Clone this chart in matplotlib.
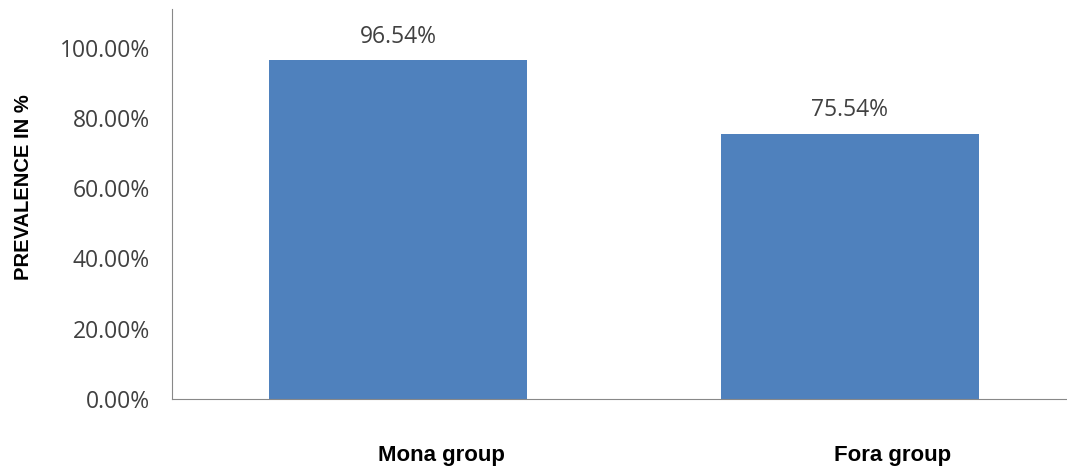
import matplotlib.pyplot as plt
import matplotlib.transforms as mtransforms
from matplotlib.ticker import FuncFormatter

# данные
groups = ["Mona group", "Fora group"]
prevalence = [96.54, 75.54]
y_ticks = [0, 20, 40, 60, 80, 100]

bar_color = "#4F81BD"
text_color = "#404040"

fig = plt.figure(figsize=(10.67, 4.69), dpi=100)
ax = fig.add_axes([172 / 1067, 1 - 399 / 469, (1076 - 172) / 1067, (399 - 9) / 469])

x = list(range(len(groups)))
ax.bar(x, prevalence, width=0.571, color=bar_color)
ax.set_xlim(-0.5, len(groups) - 0.5)
ax.set_ylim(0, 111)

for xi, v in zip(x, prevalence):
    ax.annotate(f"{v:.2f}%", (xi, v), xytext=(0, 8), textcoords="offset points",
                ha="center", va="bottom", fontsize=16.5, family="Open Sans", color=text_color)

ax.set_yticks(y_ticks)
ax.yaxis.set_major_formatter(FuncFormatter(lambda v, p: f"{v:.2f}%"))
for lbl in ax.get_yticklabels():
    lbl.set_fontfamily("Open Sans")
    lbl.set_fontsize(16.5)
    lbl.set_color(text_color)
ax.tick_params(axis="y", length=0, pad=16)

ax.set_xticks(x)
ax.set_xticklabels(groups, fontsize=16, fontweight="bold", family="Liberation Sans", color="black")
ax.tick_params(axis="x", length=0, pad=33)
offset = mtransforms.ScaledTranslation(43 / 100, 0, fig.dpi_scale_trans)
for lbl in ax.get_xticklabels():
    lbl.set_transform(lbl.get_transform() + offset)

ax.set_ylabel("PREVALENCE IN %", fontsize=14.5, fontweight="bold", family="Liberation Sans", labelpad=0)
ax.yaxis.set_label_coords(-139 / 904, (399 - 187) / 390)

ax.spines["top"].set_visible(False)
ax.spines["right"].set_visible(False)
ax.spines["left"].set_color("#888888")
ax.spines["bottom"].set_color("#888888")

plt.savefig("out.png", dpi=100)
